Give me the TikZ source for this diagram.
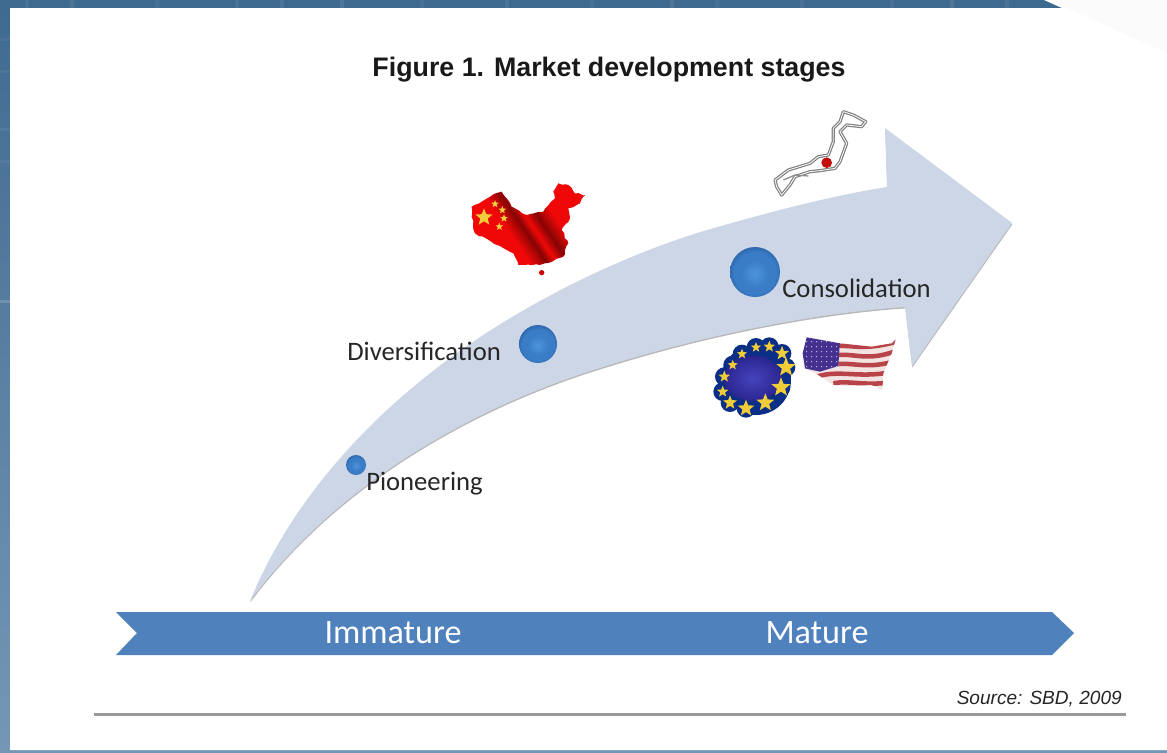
\documentclass[tikz,border=0pt]{standalone}
\usepackage{fontspec}
\setmainfont{Liberation Sans}
\newfontfamily\carl{Carlito}
\usetikzlibrary{shapes.geometric,decorations.pathmorphing}
\definecolor{bandtop}{HTML}{3F6A90}
\definecolor{bandbot}{HTML}{7597B5}
\definecolor{swoosh}{HTML}{CDD6E6}
\definecolor{ribbon}{HTML}{4F81BD}
\definecolor{beadA}{HTML}{4C94DC}
\definecolor{beadB}{HTML}{3A7CC6}
\definecolor{beadC}{HTML}{2C65A8}
\definecolor{cnred}{HTML}{F00808}
\definecolor{cndark}{HTML}{860404}
\definecolor{eublue}{HTML}{0B2F86}
\definecolor{euin}{HTML}{4644BC}
\definecolor{euout}{HTML}{2A2590}
\definecolor{eustar}{HTML}{F0CC38}
\definecolor{usred}{HTML}{B8444A}
\definecolor{uspale}{HTML}{F3E4E2}
\definecolor{uspurple}{HTML}{43308F}
\pgfdeclareradialshading{bluebead}{\pgfpoint{0bp}{-2bp}}{color(0bp)=(beadA); color(14bp)=(beadB); color(21bp)=(beadB); color(27bp)=(beadC); color(50bp)=(beadC)}
\pgfdeclarehorizontalshading{cnflag}{100bp}{color(0bp)=(cnred); color(40bp)=(cnred); color(47bp)=(cndark); color(51bp)=(cnred); color(56bp)=(cndark); color(63bp)=(cnred); color(100bp)=(cnred)}
\tikzset{
  ball/.style={circle,inner sep=0pt,shading=bluebead},
  stagelabel/.style={font=\carl\fontsize{20}{22}\selectfont,text=black!85,inner sep=0pt,anchor=west},
  ribbonlabel/.style={font=\carl\fontsize{25.6}{28}\selectfont,text=white,inner sep=0pt},
  goldstar/.style={star,star points=5,star point ratio=2.3,fill=eustar,inner sep=0pt,minimum size=#1},
  mapzoom/.style={shift={(440,90)},scale=0.33333}
}
\newcommand{\swooshshape}{(250,601) .. controls (300,480) and (400,385) .. (507,320)
 .. controls (570,282) and (640,250) .. (707,230)
 .. controls (770,212) and (830,196) .. (887,187)
 -- (885,128) -- (1012,223) -- (912,366) -- (905,307)
 .. controls (830,312) and (720,330) .. (600,368)
 .. controls (480,405) and (340,480) .. (250,601) -- cycle}
\begin{document}
\begin{tikzpicture}[x=0.75pt,y=-0.75pt]
\useasboundingbox (0,0) rectangle (1167,753);
% page background
\shade[top color=bandtop,bottom color=bandbot] (0,0) rectangle (1167,753);
\foreach \xx/\op in {25/.06,70/.07,155/.05,235/.06,280/.07,340/.09,420/.05,505/.07,590/.05,670/.08,715/.05,800/.06,890/.06,950/.09,1005/.07}{
  \fill[white,opacity=\op] (\xx,0) rectangle ++(4,8);}
\foreach \yy/\op in {38/.05,70/.05,128/.06,160/.05,300/.16}{
  \fill[white,opacity=\op] (0,\yy) rectangle ++(10,3);}
% white panel
\fill[white] (10,8) -- (1062,8) -- (1044,0) -- (1167,0) -- (1167,750) -- (10,750) -- cycle;
\fill[black!1.5] (1050,0) -- (1167,0) -- (1167,53) -- cycle;
% title
\node[inner sep=0pt,font=\bfseries\fontsize{20.1}{22}\selectfont,text=black!90] (title) at (609,70) {Figure 1. Market development stages};
% swoosh arrow
\fill[black!28,shift={(0.3,1.4)}] \swooshshape;
\fill[swoosh] \swooshshape;
% stage balls and labels
\node[ball,minimum size=15pt] (b1) at (356,465) {};
\node[ball,minimum size=28.5pt] (b2) at (538,344) {};
\node[ball,minimum size=37.5pt] (b3) at (755,272) {};
\node[stagelabel] (l1) at (366,484) {Pioneering};
\node[stagelabel] (l2) at (347,351) {Diversification};
\node[stagelabel] (l3) at (782,288) {Consolidation};
% China
\pgfmathsetseed{7}
\begin{scope}[mapzoom]
\path[shading=cnflag,shading angle=34,decorate,decoration={random steps,segment length=3pt,amplitude=0.7pt}]
 (95,350) -- (125,335) -- (150,320) -- (185,305) -- (200,325) -- (215,350) -- (260,375) -- (310,365) -- (345,325) -- (340,305) -- (355,280) -- (385,285) -- (405,310) -- (435,315) -- (420,340) -- (385,355) -- (390,385) -- (365,420) -- (385,460) -- (370,500) -- (300,525) -- (235,525) -- (220,490) -- (160,460) -- (105,430) -- (95,380) -- cycle;
\fill[cnred!85!black] (305,548) circle (8);
\node[goldstar=13.5pt] (cs0) at (132,382) {};
\foreach \a/\b in {165/342,187/360,192/385,178/410}{\node[goldstar=6pt] at (\a,\b) {};}
\end{scope}
% Japan
\begin{scope}[shift={(765,100)},scale=0.33333]
\draw[black!50,line width=0.9pt,double=white,double distance=0.6pt,line join=round,fill=white]
 (235,35) -- (265,45) -- (302,65) -- (290,80) -- (245,75) -- (225,95) -- (245,130) -- (225,185) -- (210,205) -- (165,212) -- (135,215) -- (90,230) -- (75,255) -- (50,285) -- (35,260) -- (30,240) -- (70,210) -- (135,190) -- (160,170) -- (190,165) -- (205,125) -- (205,85) -- (225,65) -- cycle;
\draw[black!45,line width=0.9pt] (55,240) -- (90,225) -- (130,228);
\fill[red!75!black!95] (185,188) circle (16);
\end{scope}
% EU
\begin{scope}[shift={(706,330)},scale=0.33333]
\fill[eublue] (150,150) circle (105);
\foreach \a/\b in {240/112,225/172,178/218,120/235,72/218,50/185,55/140,80/105,108/72,150/52,190/50,228/70}{
  \fill[eublue] (\a,\b) circle (28);}
\shade[inner color=euin,outer color=euout] (140,145) ellipse (88 and 68);
\foreach \a/\b/\s in {240/112/15,225/172/15,178/218/14,120/235/13,72/218/11,50/185/9,55/140/9,80/105/8,108/72/8,150/52/8,190/50/9,228/70/11}{
  \node[goldstar=\s pt] at (\a,\b) {};}
\end{scope}
% USA
\begin{scope}[shift={(705,330)},scale=0.33333]
\begin{scope}
\clip (305,22) -- (405,40) -- (500,50) -- (560,40) -- (572,28) -- (560,70) -- (535,130) -- (532,180) -- (500,165) -- (430,168) -- (385,165) -- (340,135) -- (300,115) -- (293,70) -- cycle;
\fill[uspale] (285,15) rectangle (580,190);
\draw[usred,line width=3.4pt] (400,48) .. controls (440,45) and (480,62) .. (575,35);
\draw[usred,line width=3.4pt] (400,75) .. controls (450,70) and (490,95) .. (575,62);
\draw[usred,line width=3.4pt] (400,102) .. controls (450,98) and (490,118) .. (575,92);
\draw[usred,line width=3.4pt] (330,142) .. controls (400,115) and (470,150) .. (575,122);
\draw[usred,line width=3.4pt] (385,160) .. controls (430,150) and (480,170) .. (575,155);
\fill[uspurple] (285,15) -- (405,30) -- (400,108) -- (345,125) -- (285,112) -- cycle;
\foreach \xx in {305,320,...,395}{\foreach \yy in {35,50,...,110}{\fill[white!70!uspurple] (\xx,\yy) circle (2);}}
\end{scope}
\end{scope}
% ribbon
\fill[ribbon] (116,612) -- (1052,612) -- (1074,633) -- (1052,655) -- (116,655) -- (137,633) -- cycle;
\node[ribbonlabel] (imm) at (393,633) {Immature};
\node[ribbonlabel] (mat) at (817,633) {Mature};
% source + rule
\node[inner sep=0pt,anchor=east,font=\itshape\fontsize{14.3}{16}\selectfont,text=black!85] (src) at (1122,699) {Source: SBD, 2009};
\fill[black!40] (94,712.5) rectangle (1126,716);
\end{tikzpicture}
\end{document}
